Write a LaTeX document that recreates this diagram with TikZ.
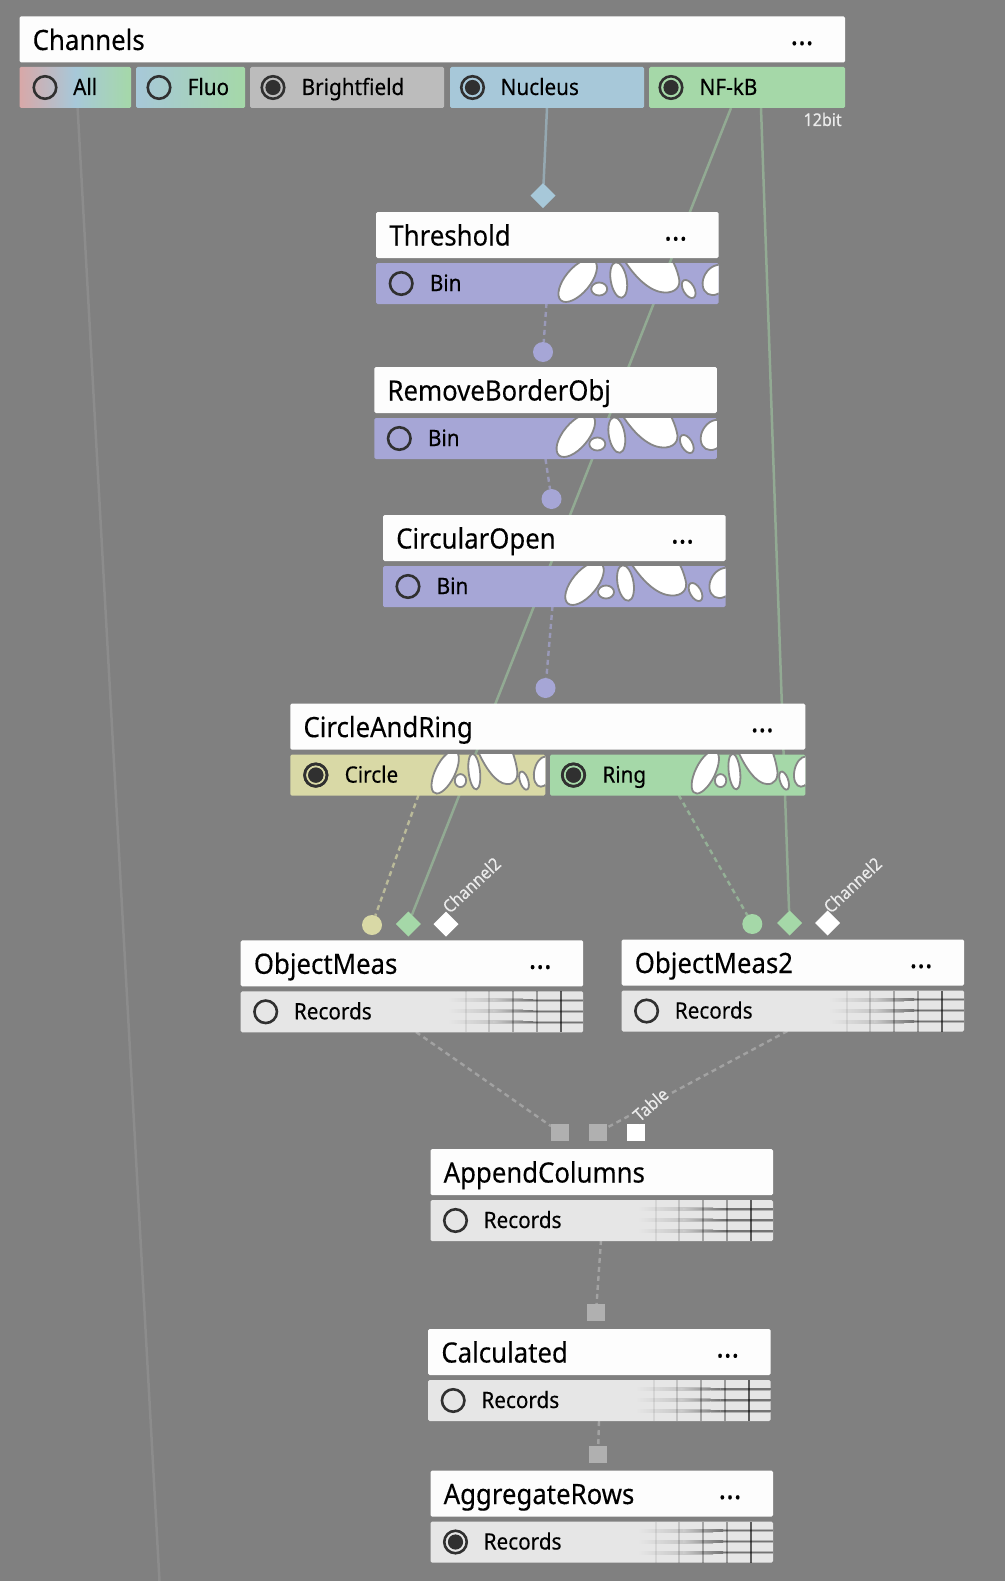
\documentclass[tikz,border=0pt]{standalone}
\usepackage{fontspec}
\setmainfont[FakeStretch=0.92,FakeBold=0.25]{Noto Sans}
\usetikzlibrary{shapes.geometric,calc}
\pgfdeclarelayer{wires}
\pgfsetlayers{wires,main}
\definecolor{bgc}{HTML}{808080}
\definecolor{hdrc}{HTML}{FDFDFD}
\definecolor{bluec}{HTML}{A7C8D9}
\definecolor{greenc}{HTML}{A5D8A8}
\definecolor{greyc}{HTML}{BCBCBC}
\definecolor{pinkc}{HTML}{D8A8A8}
\definecolor{purc}{HTML}{A6A6D6}
\definecolor{khac}{HTML}{D9D9A6}
\definecolor{recc}{HTML}{E6E6E6}
\definecolor{sqc}{HTML}{B0B0B0}
\definecolor{ringc}{HTML}{303030}
\tikzset{
  headbox/.style={fill=hdrc,rounded corners=1.5pt,anchor=north west,minimum height=46pt,inner sep=0pt,outer sep=0pt},
  tabbox/.style={rounded corners=1.5pt,anchor=north west,minimum height=41pt,inner sep=0pt,outer sep=0pt},
  titletext/.style={anchor=base west,inner sep=0pt,font=\fontsize{28pt}{30pt}\selectfont,text=black},
  tabtext/.style={anchor=base west,inner sep=0pt,font=\fontsize{22.5pt}{24pt}\selectfont,text=black},
  dotstext/.style={anchor=base,inner sep=0pt,font=\bfseries\fontsize{31pt}{32pt}\selectfont,text=black},
  smalltext/.style={inner sep=0pt,font=\fontsize{17.5pt}{19pt}\selectfont,text=white!92!black},
  radiooff/.style={circle,draw=ringc,line width=2.6pt,minimum size=22.5pt,inner sep=0pt},
  radioon/.style={radiooff,path picture={\fill[ringc] (path picture bounding box.center) circle (7.6pt);}},
  allshade/.style={left color=pinkc,right color=greenc,middle color=bluec},
  fluoshade/.style={left color=bluec,right color=greenc},
  dport/.style={diamond,aspect=1,minimum width=25pt,minimum height=25pt,inner sep=0pt,outer sep=0pt},
  cport/.style={circle,minimum size=20pt,inner sep=0pt,outer sep=0pt},
  sport/.style={rectangle,minimum width=18pt,minimum height=17pt,inner sep=0pt,outer sep=0pt},
  solidwire/.style={line width=2.5pt},
  dashwire/.style={line width=2.4pt,dash pattern=on 5pt off 4pt},
  blobpart/.style={fill=white,draw=bgc!95!white,line width=1.8pt},
}
\newif\ifshowdots
\showdotstrue
\newcommand{\nodehead}[5]{%
  \node[headbox,minimum width=#4pt] (#1) at (#2,#3) {};
  \node[titletext] (#1-title) at ([xshift=13pt,yshift=-33.5pt]#1.north west) {#5};
  \ifshowdots
  \node[dotstext] (#1-dots) at ([xshift=-43pt,yshift=-28.5pt]#1.north east) {...};
  \fi
}
\newcommand{\tabcell}[9]{%
  \node[tabbox,minimum width=#4pt,#5] (#1) at (#2,#3) {};
  \node[#8] (#1-radio) at ([xshift=#6pt,yshift=-20.5pt]#1.north west) {};
  \node[tabtext] (#1-label) at ([xshift=#7pt,yshift=-28pt]#1.north west) {#9};
}
% image of white blobs, at the right end of a cell
\newcommand{\blobs}[3]{%  right, top, x scale
  \begin{scope}[shift={(#1,#2)},xscale=#3]
    \clip (-168,0) rectangle (0,41);
    \draw[blobpart,rotate around={50:(-141,17.5)}] (-141,17.5) ellipse [x radius=26pt,y radius=12.5pt];
    \draw[blobpart] (-119.5,26) ellipse [x radius=8pt,y radius=6.5pt];
    \draw[blobpart,rotate around={10:(-100,17)}] (-100,17) ellipse [x radius=8pt,y radius=18pt];
    \draw[blobpart] (-94,-2) .. controls (-85,12) and (-70,29) .. (-54,29.5) .. controls (-44,30) and (-37,24) .. (-40,14) .. controls (-42,6) and (-44,2) .. (-46,-2) -- cycle;
    \draw[blobpart,rotate around={30:(-30,26)}] (-30,26) ellipse [x radius=5.5pt,y radius=10pt];
    \draw[blobpart,rotate around={60:(-3,17)}] (-3,17) ellipse [x radius=16pt,y radius=12pt];
  \end{scope}
}
% image of a faded table, at the right end of a cell
\newcommand{\tablegrid}[2]{%
  \begin{scope}[shift={(#1,#2)}]
    \foreach \yy in {9,20,31}{
      \shade[left color=recc,right color=black!30] (-135,\yy-1.5) rectangle (-60,\yy+1.5);
      \fill[black!30] (-60,\yy-1.5) rectangle (0,\yy+1.5);
      \shade[left color=black!20,right color=black!55] (-90,\yy-.6) rectangle (-50,\yy+.6);
      \fill[black!55] (-50,\yy-.6) rectangle (0,\yy+.6);
    }
    \fill[black,opacity=.07] (-118,0) rectangle (-116,41);
    \fill[black,opacity=.15] (-95,0) rectangle (-93,41);
    \fill[black,opacity=.28] (-71,0) rectangle (-69,41);
    \fill[black,opacity=.33] (-47,0) rectangle (-45,41);
    \fill[black,opacity=.6] (-23,0) rectangle (-21,41);
  \end{scope}
}
\newcommand{\recnode}[5]{% name,x,y,title,selected radio style
  \nodehead{#1}{#2}{#3}{342.5}{#4}
  \node[tabbox,minimum width=342.5pt,fill=recc] (#1-rec) at (#2,#3+51) {};
  \pgfmathsetmacro{\rr}{#2+342.5}\pgfmathsetmacro{\tt}{#3+51}
  \tablegrid{\rr}{\tt}
  \node[#5] (#1-rec-radio) at ([xshift=25pt,yshift=-20.5pt]#1-rec.north west) {};
  \node[tabtext] (#1-rec-label) at ([xshift=53pt,yshift=-28pt]#1-rec.north west) {Records};
}
\newcommand{\binnode}[4]{% name,x,y,title
  \nodehead{#1}{#2}{#3}{342.5}{#4}
  \node[tabbox,minimum width=342.5pt,fill=purc] (#1-bin) at (#2,#3+51) {};
  \pgfmathsetmacro{\rr}{#2+342.5}\pgfmathsetmacro{\tt}{#3+51}
  \blobs{\rr}{\tt}{1}
  \node[radiooff] (#1-bin-radio) at ([xshift=25pt,yshift=-20.5pt]#1-bin.north west) {};
  \node[tabtext] (#1-bin-label) at ([xshift=53.5pt,yshift=-28pt]#1-bin.north west) {Bin};
}
\begin{document}
\begin{tikzpicture}[x=1pt,y=-1pt]
\useasboundingbox (0,0) rectangle (1005,1581);
\begin{pgfonlayer}{wires}
  \fill[bgc] (0,0) rectangle (1005,1581);
\end{pgfonlayer}

% Channels
\nodehead{chan}{19.5}{16.5}{825.5}{Channels}
\tabcell{all}{19.5}{67}{111.5}{allshade}{25.5}{53.5}{radiooff}{All}
\tabcell{fluo}{136}{67}{109}{fluoshade}{23}{51.5}{radiooff}{Fluo}
\tabcell{bright}{250}{67}{194}{fill=greyc}{23}{51.5}{radioon}{Brightfield}
\tabcell{nucl}{450}{67}{194}{fill=bluec}{22.5}{50.5}{radioon}{Nucleus}
\tabcell{nfkb}{649}{67}{196}{fill=greenc}{22}{50.5}{radioon}{NF-kB}
\node[smalltext,anchor=base east] (bits) at (842,126) {12bit};

% Bin nodes
\node[dport,fill=bluec] (thr-in) at (543,195.7) {};
\binnode{thr}{376.2}{212}{Threshold}
\node[cport,fill=purc] (rem-in) at (543,352) {};
\showdotsfalse
\binnode{rem}{374.3}{367}{RemoveBorderObj}
\showdotstrue
\node[cport,fill=purc] (cir-in) at (551.5,499) {};
\binnode{cir}{383}{515}{CircularOpen}
\node[cport,fill=purc] (car-in) at (545.5,688) {};

% CircleAndRing
\nodehead{car}{290.3}{703.6}{515}{CircleAndRing}
\tabcell{circ}{290.3}{754.6}{255}{fill=khac}{25.5}{53.5}{radioon}{}
\blobs{545.3}{754.6}{0.71}
\tabcell{ring}{550}{754.6}{255.4}{fill=greenc}{23.5}{51.5}{radioon}{}
\blobs{805.4}{754.6}{0.71}
\node[radioon] (circ-radio2) at (circ-radio) {};
\node[tabtext] (circ-label2) at (circ-label) {Circle};
\node[radioon] (ring-radio2) at (ring-radio) {};
\node[tabtext] (ring-label2) at (ring-label) {Ring};

% ObjectMeas
\node[cport,fill=khac] (om-c) at (372,925) {};
\node[dport,fill=greenc] (om-d) at (408.3,924) {};
\node[dport,fill=white] (om-w) at (446,924) {};
\node[smalltext,rotate=43] (om-lab) at (471.5,885) {Channel2};
\recnode{om}{240.7}{940.3}{ObjectMeas}{radiooff}

\node[cport,fill=greenc] (om2-c) at (752.3,924) {};
\node[dport,fill=greenc] (om2-d) at (789.5,923) {};
\node[dport,fill=white] (om2-w) at (827.5,923) {};
\node[smalltext,rotate=43] (om2-lab) at (852.5,885) {Channel2};
\recnode{om2}{621.6}{939.5}{ObjectMeas2}{radiooff}

% AppendColumns and below
\node[sport,fill=sqc] (app-a) at (560,1132.4) {};
\node[sport,fill=sqc] (app-b) at (598,1132.4) {};
\node[sport,fill=white] (app-c) at (636,1132.4) {};
\node[smalltext,rotate=41,fill=bgc,inner sep=1pt] (app-lab) at (650.5,1104.5) {Table};
\showdotsfalse
\recnode{app}{430.5}{1149}{AppendColumns}{radiooff}
\showdotstrue
\node[sport,fill=sqc] (calc-in) at (596,1312.5) {};
\recnode{calc}{428.2}{1329}{Calculated}{radiooff}
\node[sport,fill=sqc] (agg-in) at (598,1454.5) {};
\recnode{agg}{430.5}{1470.5}{AggregateRows}{radioon}

% free ends of the connectors
\coordinate (all-out) at (77.6,108);
\coordinate (all-end) at (159.5,1581);
\coordinate (nucl-out) at (547,108);
\coordinate (nfkb-a) at (731,108);
\coordinate (nfkb-b) at (761,108);
\coordinate (thr-out) at (546.5,303);
\coordinate (rem-out) at (545.5,459);
\coordinate (cir-out) at (552.5,606);
\coordinate (circ-out) at (418.5,795);
\coordinate (ring-out) at (678.7,795);
\coordinate (om-out) at (416,1032);
\coordinate (om2-out) at (787.5,1031);
\coordinate (app-out) at (601,1240);
\coordinate (calc-out) at (599,1421);

\begin{pgfonlayer}{wires}
  \draw[solidwire,draw=white!55!black] (all-out) -- (all-end);
  \draw[solidwire,draw=bluec!55!bgc] (nucl-out) -- (thr-in);
  \draw[solidwire,draw=greenc!48!bgc] (nfkb-a) -- (om-d);
  \draw[solidwire,draw=greenc!48!bgc] (nfkb-b) -- (om2-d);
  \draw[dashwire,draw=purc!65!bgc] (thr-out) -- (rem-in);
  \draw[dashwire,draw=purc!65!bgc] (rem-out) -- (cir-in);
  \draw[dashwire,draw=purc!65!bgc] (cir-out) -- (car-in);
  \draw[dashwire,draw=khac!65!bgc] (circ-out) -- (om-c);
  \draw[dashwire,draw=greenc!55!bgc] (ring-out) -- (om2-c);
  \draw[dashwire,draw=sqc!70!bgc] (om-out) -- (app-a);
  \draw[dashwire,draw=sqc!70!bgc] (om2-out) -- (app-b);
  \draw[dashwire,draw=sqc!70!bgc] (app-out) -- (calc-in);
  \draw[dashwire,draw=sqc!70!bgc] (calc-out) -- (agg-in);
\end{pgfonlayer}
\end{tikzpicture}
\end{document}
